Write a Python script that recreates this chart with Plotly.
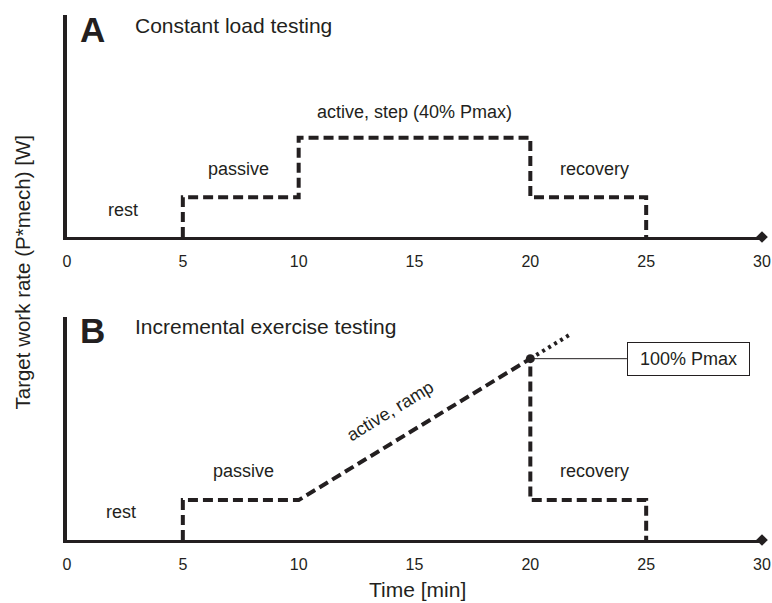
import plotly.graph_objects as go
from plotly.subplots import make_subplots

# ---- data ----
x_ticks = [0, 5, 10, 15, 20, 25, 30]
x_tick_labels = ["0", "5", "10", "15", "20", "25", "30"]

# Panel A: constant load testing (step protocol)
time_a = [5, 5, 10, 10, 20, 20, 25, 25]
load_a = [0, 22, 22, 55, 55, 22, 22, 0]

# Panel B: incremental exercise testing (ramp protocol)
time_b = [5, 5, 10, 20, 20, 25, 25]
load_b = [0, 22, 22, 100, 22, 22, 0]
time_b_ext = [20, 21.8]
load_b_ext = [100, 114]
peak_time = [20]
peak_load = [100]

labels_a = ["rest", "passive", "active, step (40% Pmax)", "recovery"]
labels_a_x = [2.42, 7.42, 15.0, 22.77]
labels_a_y = [15.2, 37.9, 69.5, 37.9]

labels_b = ["rest", "passive", "recovery"]
labels_b_x = [2.33, 7.64, 22.77]
labels_b_y = [15.4, 37.8, 37.8]

ramp_label = "active, ramp"
peak_label = "100% Pmax"

INK = "#231f20"
FONT = "Arial, Liberation Sans, sans-serif"

fig = make_subplots(rows=2, cols=1)

dash_line = dict(color=INK, width=4, dash="10px,5px")

fig.add_trace(go.Scatter(x=time_a, y=load_a, mode="lines", line=dash_line,
                         showlegend=False, hoverinfo="skip"), row=1, col=1)
fig.add_trace(go.Scatter(x=time_b, y=load_b, mode="lines", line=dash_line,
                         showlegend=False, hoverinfo="skip"), row=2, col=1)
fig.add_trace(go.Scatter(x=time_b_ext, y=load_b_ext, mode="lines",
                         line=dict(color=INK, width=4, dash="3px,4px"),
                         showlegend=False, hoverinfo="skip"), row=2, col=1)

# connector from peak to label box
box_left_x = 24.17
box_center_x = 26.83
fig.add_trace(go.Scatter(x=[peak_time[0], box_left_x], y=[peak_load[0], peak_load[0]],
                         mode="lines", line=dict(color=INK, width=1),
                         showlegend=False, hoverinfo="skip"), row=2, col=1)
fig.add_trace(go.Scatter(x=peak_time, y=peak_load, mode="markers",
                         marker=dict(color=INK, size=9),
                         showlegend=False, hoverinfo="skip"), row=2, col=1)

# axis-end diamonds
for r in (1, 2):
    fig.add_trace(go.Scatter(x=[x_ticks[-1]], y=[0], mode="markers",
                             marker=dict(symbol="diamond", color=INK, size=9),
                             cliponaxis=False, showlegend=False, hoverinfo="skip"),
                  row=r, col=1)

xaxis_style = dict(range=[0, 30], showgrid=False, zeroline=False, showline=True,
                   linecolor=INK, linewidth=3, ticks="", tickvals=x_ticks,
                   ticktext=x_tick_labels, ticklabelstandoff=8, automargin=False,
                   tickfont=dict(family=FONT, size=16, color=INK))
yaxis_style = dict(range=[0, 123], showgrid=False, zeroline=False, showline=True,
                   linecolor=INK, linewidth=4, ticks="", showticklabels=False,
                   automargin=False)

fig.update_layout(
    width=772, height=603, autosize=False,
    margin=dict(l=67, r=10, t=15, b=63),
    paper_bgcolor="white", plot_bgcolor="white",
    font=dict(family=FONT, color=INK),
    xaxis=dict(**xaxis_style, domain=[0, 1], anchor="y"),
    yaxis=dict(**yaxis_style, domain=[0.5771, 1], anchor="x"),
    xaxis2=dict(**xaxis_style, domain=[0, 1], anchor="y2"),
    yaxis2=dict(**yaxis_style, domain=[0, 0.4248], anchor="x2"),
)

ann = []
# panel letters and titles
ann.append(dict(text="<b>A</b>", x=1.12, y=114.7, xref="x", yref="y",
                showarrow=False, font=dict(size=35, family=FONT, color=INK)))
ann.append(dict(text="Constant load testing", x=2.85, y=117.4, xref="x", yref="y",
                xanchor="left", showarrow=False, font=dict(size=21, family=FONT, color=INK)))
ann.append(dict(text="<b>B</b>", x=1.12, y=115.3, xref="x2", yref="y2",
                showarrow=False, font=dict(size=35, family=FONT, color=INK)))
ann.append(dict(text="Incremental exercise testing", x=2.85, y=118, xref="x2", yref="y2",
                xanchor="left", showarrow=False, font=dict(size=21, family=FONT, color=INK)))

for t, xx, yy in zip(labels_a, labels_a_x, labels_a_y):
    ann.append(dict(text=t, x=xx, y=yy, xref="x", yref="y", showarrow=False,
                    font=dict(size=18, family=FONT, color=INK)))
for t, xx, yy in zip(labels_b, labels_b_x, labels_b_y):
    ann.append(dict(text=t, x=xx, y=yy, xref="x2", yref="y2", showarrow=False,
                    font=dict(size=18, family=FONT, color=INK)))

ann.append(dict(text=ramp_label, x=13.94, y=71.2, xref="x2", yref="y2", showarrow=False,
                textangle=-31.5, font=dict(size=18, family=FONT, color=INK)))
ann.append(dict(text=peak_label, x=box_center_x, y=peak_load[0], xref="x2", yref="y2",
                showarrow=False, width=111, height=22, borderpad=5, borderwidth=1,
                bordercolor=INK, bgcolor="white",
                font=dict(size=18, family=FONT, color=INK)))

# axis titles
ann.append(dict(text="Time [min]", x=0.5036, y=-0.0952, xref="paper", yref="paper",
                showarrow=False, xanchor="center", yanchor="middle",
                font=dict(size=21, family=FONT, color=INK)))
ann.append(dict(text="Target work rate (P*mech) [W]", x=-0.0633, y=0.5095,
                xref="paper", yref="paper", showarrow=False, textangle=-90,
                xanchor="center", yanchor="middle",
                font=dict(size=20.5, family=FONT, color=INK)))

fig.update_layout(annotations=ann)
fig.write_html("out.html",
               config={"displayModeBar": False, "responsive": False},
               post_script="document.body.style.margin='0';document.body.style.padding='0';"
                           "document.documentElement.style.overflow='hidden';")
